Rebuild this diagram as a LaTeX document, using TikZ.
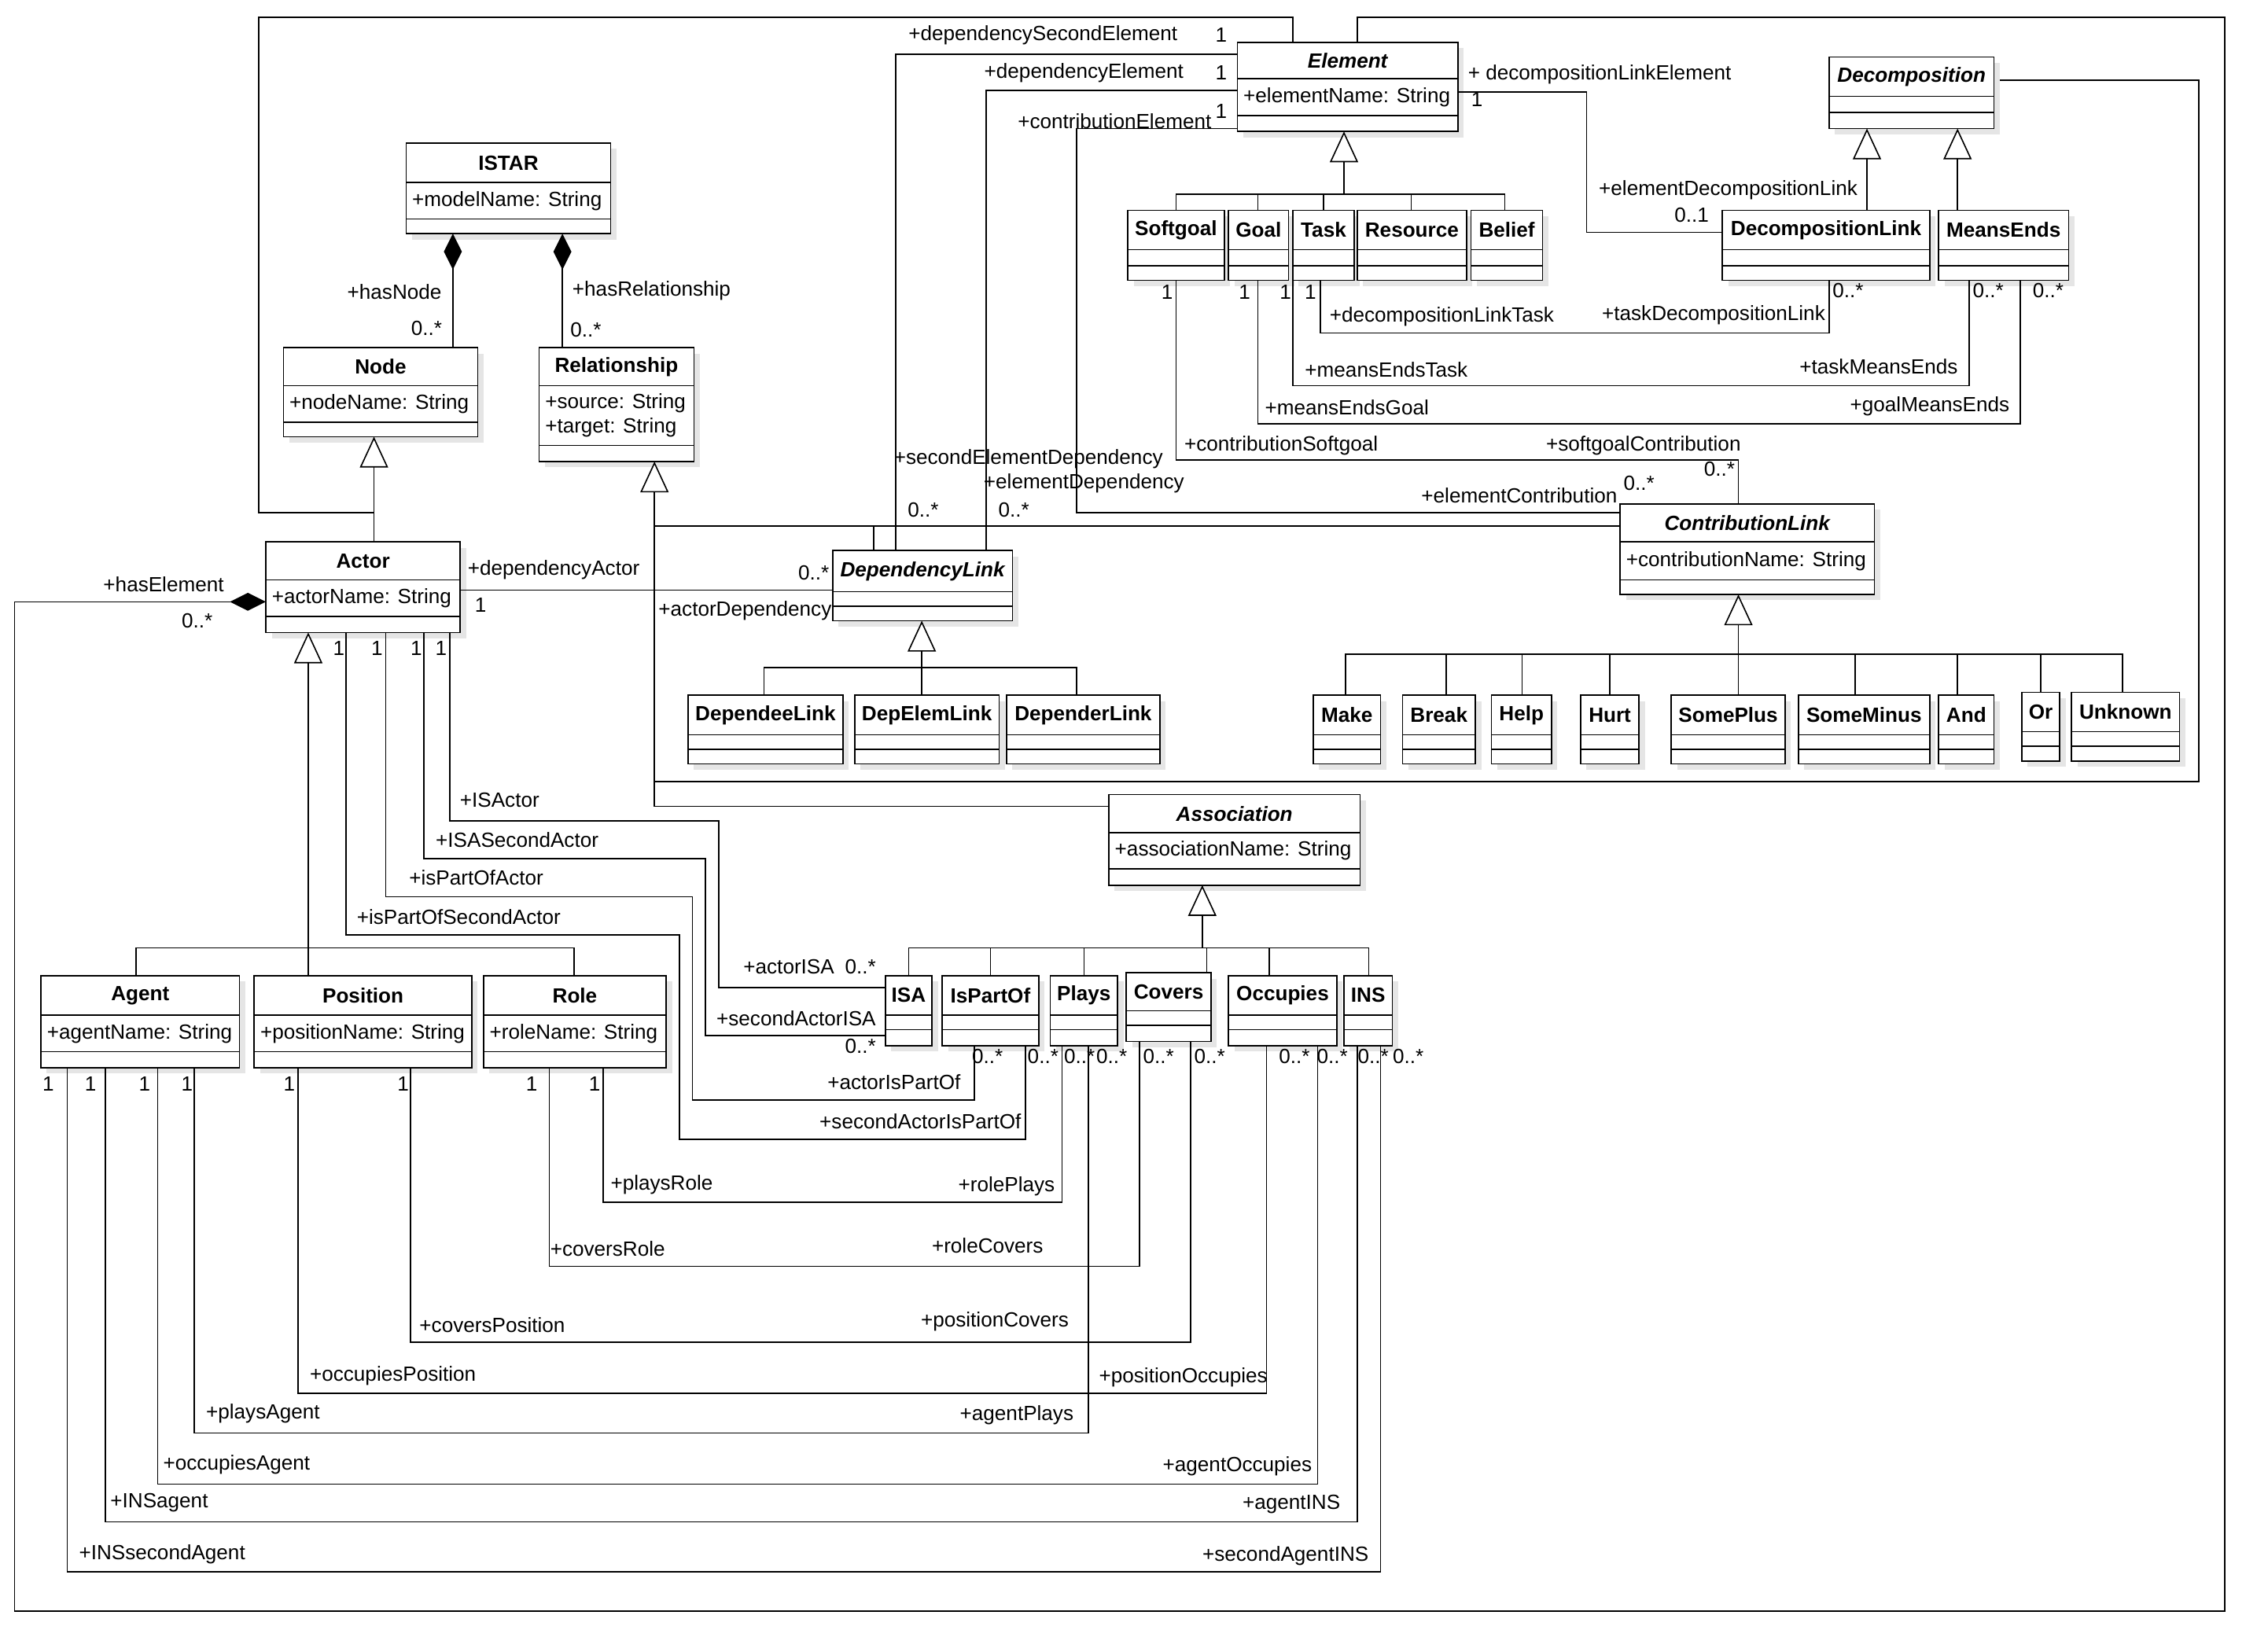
\documentclass[tikz,border=0pt]{standalone}
\usepackage{fontspec}
\setmainfont{Liberation Sans}
\usetikzlibrary{arrows.meta, fit, positioning}

% class box: name, x1, y1, x2, y2, sep1, sep2, title, attributes
\newcommand\umlcls[9]{%
  \fill[gray!20] (#2+4,#3+4) rectangle (#4+4,#5+4);
  \node[box, fit={(#2,#3)(#4,#5)}] (#1) {};
  \draw (#2,#6) -- (#4,#6) (#2,#7) -- (#4,#7);
  \node[font=\fontsize{8}{9.5}\selectfont\bfseries] at ({(#2+#4)/2},{(#3+#6)/2}) {#8};
  \node[anchor=west, align=left] at (#2+2,{(#6+#7)/2}) {#9};
}

\begin{document}
\begin{tikzpicture}[
    x=0.02cm, y=-0.02cm,
    every node/.style={font=\fontsize{8}{9.5}\selectfont, inner sep=1pt},
    box/.style={draw, fill=white, inner sep=0pt},
    gen/.style={-{Triangle[open, length=12pt, width=11pt, fill=white]}},
    comp/.style={{Diamond[length=14pt, width=7pt]}-},
    line width=0.5pt
]
\useasboundingbox (0,0) rectangle (1545,1131);

% Outer connectors
\draw (929,29) -- (929,12) -- (1523,12) -- (1523,1103) -- (10,1103) -- (10,412);
\draw[comp] (182,412) -- (10,412);
\draw (885,29) -- (885,12) -- (177,12) -- (177,351) -- (256,351);
\draw (1365,55) -- (1505,55) -- (1505,535) -- (448,535);
\draw (448,360) -- (1109,360);
\draw (598,377) -- (598,360);

% Classes
\umlcls{istar}{278}{98}{418}{160}{125}{150}{ISTAR}{+modelName: String}
\umlcls{node}{194}{238}{327}{299}{264}{289}{Node}{+nodeName: String}
\umlcls{rel}{369}{238}{475}{316}{264}{305}{Relationship}{+source: String\\+target: String}
\umlcls{actor}{182}{371}{315}{433}{397}{422}{Actor}{+actorName: String}
\umlcls{elem}{847}{29}{998}{90}{54}{79}{\itshape Element}{+elementName: String}
\umlcls{decomp}{1252}{39}{1365}{88}{66}{77}{\itshape Decomposition}{}
\umlcls{softgoal}{772}{144}{838}{192}{171}{182}{Softgoal}{}
\umlcls{goal}{841}{144}{882}{192}{171}{182}{Goal}{}
\umlcls{task}{885}{144}{927}{192}{171}{182}{Task}{}
\umlcls{resource}{929}{144}{1004}{192}{171}{182}{Resource}{}
\umlcls{belief}{1007}{144}{1056}{192}{171}{182}{Belief}{}
\umlcls{decolink}{1179}{144}{1321}{192}{171}{182}{DecompositionLink}{}
\umlcls{meansends}{1327}{144}{1416}{192}{171}{182}{MeansEnds}{}
\umlcls{contrib}{1109}{345}{1283}{407}{371}{397}{\itshape ContributionLink}{+contributionName: String}
\umlcls{deplink}{570}{377}{693}{425}{405}{415}{\itshape DependencyLink}{}
\umlcls{dependee}{471}{476}{577}{523}{503}{513}{DependeeLink}{}
\umlcls{depelem}{585}{476}{684}{523}{503}{513}{DepElemLink}{}
\umlcls{depender}{689}{476}{794}{523}{503}{513}{DependerLink}{}
\umlcls{make}{899}{476}{945}{523}{503}{513}{Make}{}
\umlcls{break}{960}{476}{1010}{523}{503}{513}{Break}{}
\umlcls{help}{1021}{476}{1062}{523}{503}{513}{Help}{}
\umlcls{hurt}{1082}{476}{1122}{523}{503}{513}{Hurt}{}
\umlcls{someplus}{1144}{476}{1222}{523}{503}{513}{SomePlus}{}
\umlcls{someminus}{1231}{476}{1321}{523}{503}{513}{SomeMinus}{}
\umlcls{and}{1327}{476}{1365}{523}{503}{513}{And}{}
\umlcls{or}{1384}{474}{1410}{521}{501}{511}{Or}{}
\umlcls{unknown}{1418}{474}{1492}{521}{501}{511}{Unknown}{}
\umlcls{assoc}{759}{544}{931}{606}{570}{595}{\itshape Association}{+associationName: String}
\umlcls{isa}{606}{668}{638}{716}{695}{705}{ISA}{}
\umlcls{ispartof}{645}{668}{711}{716}{695}{705}{IsPartOf}{}
\umlcls{plays}{719}{668}{765}{716}{695}{705}{Plays}{}
\umlcls{covers}{771}{666}{829}{713}{692}{702}{Covers}{}
\umlcls{occupies}{841}{668}{915}{716}{695}{705}{Occupies}{}
\umlcls{ins}{920}{668}{953}{716}{695}{705}{INS}{}
\umlcls{agent}{28}{668}{164}{731}{695}{720}{Agent}{+agentName: String}
\umlcls{position}{174}{668}{323}{731}{695}{720}{Position}{+positionName: String}
\umlcls{role}{331}{668}{456}{731}{695}{720}{Role}{+roleName: String}

% Generalizations
\draw (256,371) -- (256,322); \draw[gen] (256,330) -- (256,299);
\draw (805,144) -- (805,133) -- (1030,133) -- (1030,144);
\foreach \x in {861,906,966} \draw (\x,144) -- (\x,133);
\draw[gen] (920,133) -- (920,90);
\draw[gen] (1278,144) -- (1278,88);
\draw[gen] (1340,144) -- (1340,88);
\draw (921,476) -- (921,448) -- (1453,448) -- (1453,474);
\foreach \x in {990,1042,1102,1270,1340} \draw (\x,476) -- (\x,448);
\draw (1397,474) -- (1397,448);
\draw[gen] (1190,476) -- (1190,407);
\draw (523,476) -- (523,457) -- (737,457) -- (737,476);
\draw[gen] (631,476) -- (631,425);
\draw (622,668) -- (622,649) -- (937,649) -- (937,668);
\foreach \x in {678,742,869} \draw (\x,668) -- (\x,649);
\draw (826,666) -- (826,649);
\draw[gen] (823,649) -- (823,606);
\draw (93,668) -- (93,649) -- (393,649) -- (393,668);
\draw[gen] (211,668) -- (211,433);
\draw (759,552) -- (448,552) -- (448,338);
\draw[gen] (448,340) -- (448,316);

% Compositions
\draw[comp] (310,160) -- (310,238);
\draw[comp] (385,160) -- (385,238);

% Associations
\draw (847,37) -- (613,37) -- (613,377);
\draw (847,62) -- (675,62) -- (675,377);
\draw (847,88) -- (737,88) -- (737,351) -- (1109,351);
\draw (998,63) -- (1086,63) -- (1086,159) -- (1179,159);
\draw (315,404) -- (570,404);
\draw (805,192) -- (805,315) -- (1190,315) -- (1190,345);
\draw (861,192) -- (861,290) -- (1383,290) -- (1383,192);
\draw (885,192) -- (885,264) -- (1348,264) -- (1348,192);
\draw (904,192) -- (904,228) -- (1252,228) -- (1252,192);
\draw (308,433) -- (308,562) -- (492,562) -- (492,676) -- (606,676);
\draw (290,433) -- (290,588) -- (483,588) -- (483,709) -- (606,709);
\draw (264,433) -- (264,614) -- (474,614) -- (474,753) -- (667,753) -- (667,716);
\draw (237,433) -- (237,640) -- (465,640) -- (465,780) -- (702,780) -- (702,716);
\draw (413,731) -- (413,823) -- (727,823) -- (727,716);
\draw (376,731) -- (376,867) -- (780,867) -- (780,713);
\draw (281,731) -- (281,919) -- (815,919) -- (815,713);
\draw (204,731) -- (204,954) -- (867,954) -- (867,716);
\draw (133,731) -- (133,981) -- (745,981) -- (745,716);
\draw (108,731) -- (108,1016) -- (902,1016) -- (902,716);
\draw (72,731) -- (72,1042) -- (929,1042) -- (929,716);
\draw (46,731) -- (46,1076) -- (945,1076) -- (945,716);

% Role names and multiplicities
\node at (112,400) {+hasElement}; \node at (135,425) {0..*};
\node at (270,200) {+hasNode}; \node at (292,225) {0..*};
\node at (446,199) {+hasRelationship}; \node at (401,226) {0..*};
\node at (714,24) {+dependencySecondElement}; \node at (836,24) {1};
\node at (742,50) {+dependencyElement}; \node at (836,50) {1};
\node at (763,83) {+contributionElement}; \node at (836,76) {1};
\node at (704,314) {+secondElementDependency}; \node at (632,349) {0..*};
\node at (742,331) {+elementDependency}; \node at (694,349) {0..*};
\node at (1040,339) {+elementContribution}; \node at (1122,331) {0..*};
\node at (1095,51) {+ decompositionLinkElement}; \node at (1011,68) {1};
\node at (1183,130) {+elementDecompositionLink}; \node at (1158,147) {0..1};
\node at (379,390) {+dependencyActor}; \node at (329,414) {1};
\node at (557,392) {0..*}; \node at (510,418) {+actorDependency};
\node at (799,200) {1}; \node at (877,305) {+contributionSoftgoal};
\node at (1125,305) {+softgoalContribution}; \node at (1177,321) {0..*};
\node at (852,200) {1}; \node at (922,279) {+meansEndsGoal};
\node at (1321,278) {+goalMeansEnds}; \node at (1402,199) {0..*};
\node at (880,200) {1}; \node at (949,253) {+meansEndsTask};
\node at (1286,251) {+taskMeansEnds}; \node at (1361,199) {0..*};
\node at (897,200) {1}; \node at (987,217) {+decompositionLinkTask};
\node at (1173,216) {+taskDecompositionLink}; \node at (1265,199) {0..*};
\node at (302,444) {1}; \node at (342,548) {+ISActor};
\node at (540,662) {+actorISA}; \node at (589,662) {0..*};
\node at (285,444) {1}; \node at (354,575) {+ISASecondActor};
\node at (545,697) {+secondActorISA}; \node at (589,716) {0..*};
\node at (258,444) {1}; \node at (326,601) {+isPartOfActor};
\node at (612,741) {+actorIsPartOf}; \node at (676,723) {0..*};
\node at (232,444) {1}; \node at (314,628) {+isPartOfSecondActor};
\node at (630,768) {+secondActorIsPartOf}; \node at (714,723) {0..*};
\node at (407,742) {1}; \node at (453,811) {+playsRole};
\node at (689,812) {+rolePlays}; \node at (739,723) {0..*};
\node at (364,742) {1}; \node at (416,855) {+coversRole};
\node at (676,853) {+roleCovers}; \node at (793,723) {0..*};
\node at (276,742) {1}; \node at (337,907) {+coversPosition};
\node at (681,905) {+positionCovers}; \node at (828,723) {0..*};
\node at (198,742) {1}; \node at (269,942) {+occupiesPosition};
\node at (810,943) {+positionOccupies}; \node at (886,723) {0..*};
\node at (128,742) {1}; \node at (180,968) {+playsAgent};
\node at (696,969) {+agentPlays}; \node at (761,723) {0..*};
\node at (99,742) {1}; \node at (162,1003) {+occupiesAgent};
\node at (847,1004) {+agentOccupies}; \node at (912,723) {0..*};
\node at (62,742) {1}; \node at (109,1029) {+INSagent};
\node at (884,1030) {+agentINS}; \node at (940,723) {0..*};
\node at (33,742) {1}; \node at (111,1064) {+INSsecondAgent};
\node at (880,1065) {+secondAgentINS}; \node at (964,723) {0..*};
\end{tikzpicture}
\end{document}
